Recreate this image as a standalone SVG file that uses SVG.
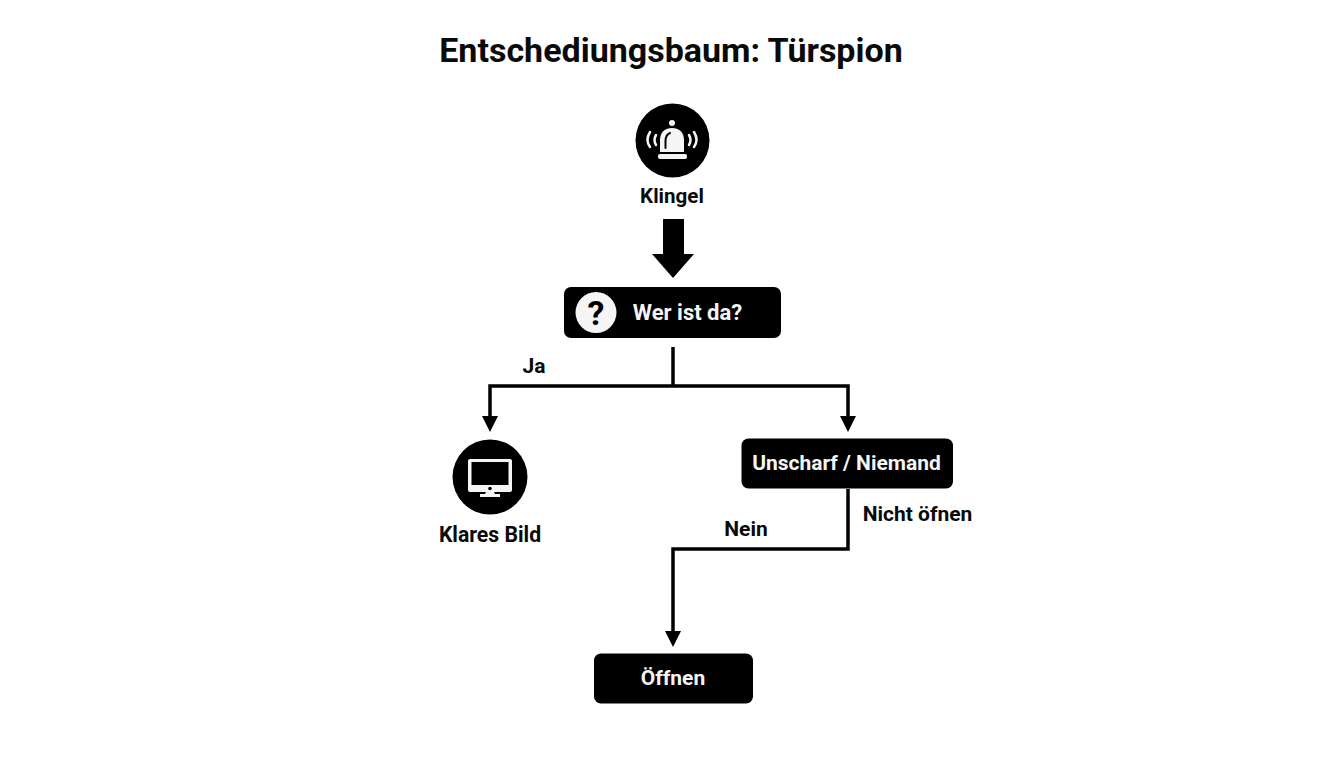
<svg xmlns="http://www.w3.org/2000/svg" width="1344" height="768" viewBox="0 0 1344 768">
<defs>
<style>
text{font-family:Roboto,"Liberation Sans",sans-serif;font-weight:700;text-anchor:middle;fill:#0a0a0a;font-size:21px}
text.inv{fill:#f5f5f5}
.w{fill:#f5f5f5}
.box{fill:#000}
.c{fill:none;stroke:#000;stroke-width:3.5}
.end{marker-end:url(#a)}
.ic{fill:none;stroke:#f5f5f5;stroke-width:2.5;stroke-linecap:round}
</style>
<marker id="a" markerUnits="userSpaceOnUse" markerWidth="17" markerHeight="16" refX="1" refY="8" orient="auto" viewBox="0 0 17 16"><path d="M0 0L16 8L0 16Z"/></marker>
</defs>
<rect width="1344" height="768" fill="#fff"/>
<text id="title" x="671" y="62" style="font-size:34px">Entschediungsbaum: Türspion</text>
<g id="connectors">
<path d="M663 219H684V254H694L673 278L652 254H663Z" fill="#000"/>
<path class="c" d="M673 347V386"/>
<path class="c end" d="M673 386H490V417"/>
<path class="c end" d="M673 386H848V417"/>
<path class="c end" d="M848 489V549H673V632"/>
<text x="534" y="373">Ja</text>
<text x="917.500" y="521">Nicht öfnen</text>
<text x="746" y="536">Nein</text>
</g>
<g id="klingel">
<circle cx="672.500" cy="140.500" r="37"/>
<circle cx="672" cy="123" r="3" class="w"/>
<path class="w" d="M660 152V140C660 132 665 128 672 128S684 132 684 140V152Z"/>
<path d="M665.500 148V141Q665.500 135 670 133" fill="none" stroke="#000" stroke-width="2" stroke-linecap="round"/>
<rect x="658" y="154" width="29" height="5" rx="2" class="w"/>
<path class="ic" d="M650 132Q645 140 650 147"/>
<path class="ic" d="M656 135Q653 140 656 145"/>
<path class="ic" d="M689 135Q692 140 689 145"/>
<path class="ic" d="M694 132Q699 140 694 147"/>
<text x="672" y="203" style="font-size:20.600px">Klingel</text>
</g>
<g id="frage">
<rect class="box" x="564" y="287" width="217" height="51" rx="7"/>
<circle cx="596" cy="312.500" r="20.500" class="w"/>
<text x="596" y="325" style="font-size:34px;fill:#000">?</text>
<text class="inv" x="687.500" y="320" style="font-size:22px">Wer ist da?</text>
</g>
<g id="klares-bild">
<circle cx="490" cy="477" r="37.500"/>
<rect x="468" y="459" width="44" height="33" rx="2" class="w"/>
<rect x="471.500" y="462" width="37" height="23" fill="#000"/>
<circle cx="490" cy="488.500" r="1.800" fill="#000"/>
<path class="w" d="M486 492H494L495 494H500V497H480V494H485Z"/>
<text x="490" y="542" style="font-size:21.200px">Klares Bild</text>
</g>
<g id="unscharf">
<rect class="box" x="741.500" y="438.500" width="211.500" height="50" rx="7"/>
<text class="inv" x="846.500" y="470">Unscharf / Niemand</text>
</g>
<g id="oeffnen">
<rect class="box" x="594" y="653.500" width="159" height="50" rx="7"/>
<text class="inv" x="673" y="685">Öffnen</text>
</g>
</svg>
